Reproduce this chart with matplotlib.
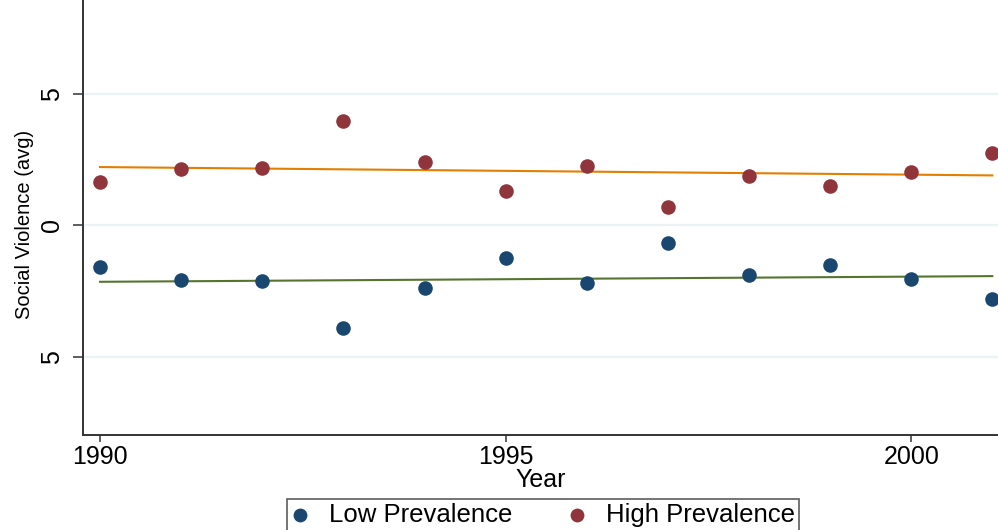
import numpy as np
import matplotlib.pyplot as plt

plt.rcParams['font.family'] = ['Liberation Sans', 'DejaVu Sans']

# values
years = [1990, 1991, 1992, 1993, 1994, 1995, 1996, 1997, 1998, 1999, 2000, 2001]
low_prev = [-1.60, -2.09, -2.13, -3.92, -2.40, -1.25, -2.21, -0.68, -1.90, -1.52, -2.05, -2.81]
high_prev = [1.63, 2.13, 2.17, 3.95, 2.40, 1.29, 2.24, 0.68, 1.86, 1.48, 2.02, 2.74]
yticks = [-5, 0, 5]
ytick_labels = ["5", "0", "5"]
xticks = [1990, 1995, 2000]

navy = '#1a476f'
maroon = '#90353b'
orange = '#e37e00'
green = '#55752f'

fig = plt.figure(figsize=(9.98, 5.30), dpi=100)
ax = fig.add_axes([83/998, 1 - 435/530, 1 - 83/998, 435/530])

x = np.array(years, dtype=float)

# linear fits
for ys, c in [(high_prev, orange), (low_prev, green)]:
    b, a = np.polyfit(x, ys, 1)
    ax.plot([x[0], x[-1]], [a + b*x[0], a + b*x[-1]], color=c, lw=1.5, zorder=2)

ax.scatter(x, low_prev, s=110, color=navy, zorder=3, label='Low Prevalence', linewidths=0)
ax.scatter(x, high_prev, s=110, color=maroon, zorder=3, label='High Prevalence', linewidths=0)

ax.set_xlim(1989.79, 2001.07)
ax.set_ylim(-7.98, 8.56)

ax.set_xticks(xticks)
ax.set_yticks(yticks)
ax.set_yticklabels(ytick_labels)
ax.grid(axis='y', color='#eaf2f3', lw=1.6, zorder=0)
ax.set_axisbelow(True)

for s in ['top', 'right']:
    ax.spines[s].set_visible(False)
for s in ['left', 'bottom']:
    ax.spines[s].set_color('#333333')
    ax.spines[s].set_linewidth(1.4)

ax.tick_params(axis='x', length=5, width=1.1, color='#333333', labelsize=18, pad=2.5)
ax.tick_params(axis='y', length=7, width=1.1, color='#333333', labelsize=18, pad=7,
               labelrotation=90)
for lab in ax.get_yticklabels():
    lab.set_va('center')

ax.set_xlabel('Year', fontsize=18)
ax.xaxis.set_label_coords(0.5, -0.077)
ax.set_ylabel('Social Violence (avg)', fontsize=14.5)
ax.yaxis.set_label_coords(-0.054, 0.483)

leg = fig.legend(loc='upper center', bbox_to_anchor=(543/998, 1 - 499/530), ncol=2,
                 fontsize=18.5, frameon=True, fancybox=False, edgecolor='#333333',
                 handlelength=0.7, handletextpad=0.75, columnspacing=2.2,
                 borderpad=0.15, borderaxespad=0, markerscale=0.95)
leg.get_frame().set_linewidth(1.2)

fig.savefig('out.png', dpi=100)
